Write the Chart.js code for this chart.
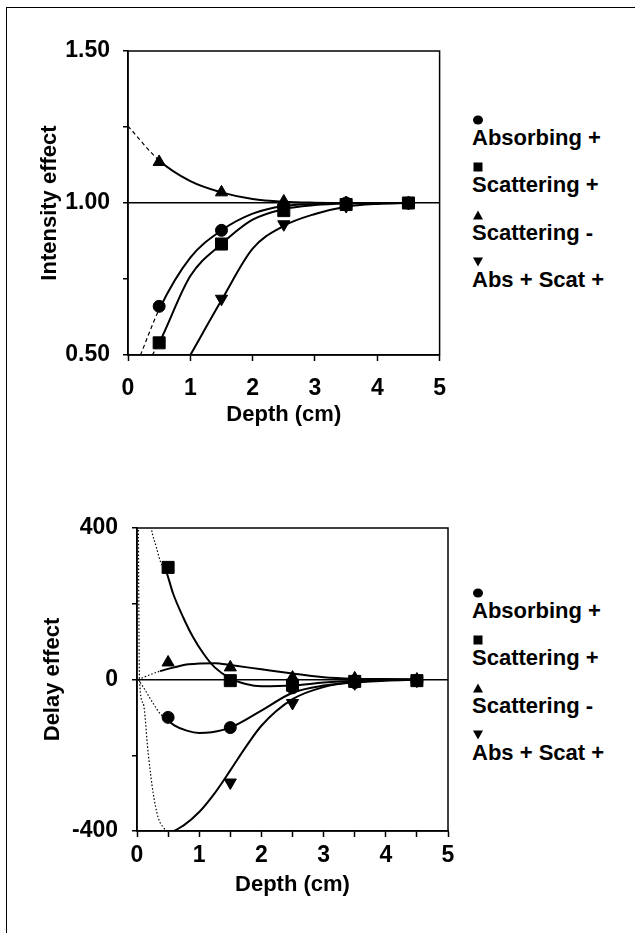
<!DOCTYPE html>
<html>
<head>
<meta charset="utf-8">
<script src="https://cdn.jsdelivr.net/npm/chart.js@4.4.0/dist/chart.umd.min.js"></script>
<style>
    html, body { margin: 0; padding: 0; background: #fff; }
    body { width: 643px; height: 934px; position: relative; overflow: hidden; font-family: 'Liberation Sans', Arial, sans-serif; }
    #frame { position: absolute; left: 6px; top: 7px; width: 628px; height: 925px; border-top: 1.5px solid #000; border-left: 1.5px solid #000; }
    .box { position: absolute; left: 0; }
    #topBox { top: 0; }
    #bottomBox { top: 470px; }
    .legend { position: absolute; left: 472px; font-weight: bold; font-size: 22px; color: #000; }
    .legend .item { height: 47.3px; }
    .legend .mark { height: 10px; position: relative; }
    .legend svg { position: absolute; left: 0; top: 0; }
    .legend .txt { line-height: 26px; white-space: nowrap; }
</style>
</head>
<body>
<div id="frame"></div>
<div class="box" id="topBox"><canvas id="intensityChart" width="460" height="440"></canvas></div>
<div class="legend" id="topLegend" style="top:115px"></div>
<div class="box" id="bottomBox"><canvas id="delayChart" width="460" height="430"></canvas></div>
<div class="legend" id="bottomLegend" style="top:588px"></div>
<script>
    const depth = [0.5, 1.5, 2.5, 3.5, 4.5];
    const seriesNames = ['Absorbing +', 'Scattering +', 'Scattering -', 'Abs + Scat +'];

    // Intensity effect (upper panel)
    const intAbsorbing = [0.66, 0.91, 0.99, 1.0, 1.0];
    const intScatPlus = [0.54, 0.865, 0.975, 0.995, 1.0];
    const intScatMinus = [1.135, 1.035, 1.005, 1.0, 1.0];
    const intAbsScat = [null, 0.685, 0.93, 0.99, 1.0];

    // trend lines: [depth, value]
    const intFitAbsorbing = [[0.2, 0.5], [0.5, 0.65], [1.0, 0.82], [1.5, 0.91], [2.0, 0.965], [2.5, 0.99], [3.0, 0.997], [3.5, 1.0], [4.5, 1.0]];
    const intFitScatPlus = [[0.39, 0.5], [0.5, 0.54], [1.0, 0.76], [1.5, 0.865], [2.0, 0.945], [2.5, 0.98], [3.0, 0.993], [3.5, 0.998], [4.5, 1.0]];
    const intFitScatMinus = [[0, 1.253], [0.5, 1.14], [1.0, 1.072], [1.5, 1.035], [2.0, 1.013], [2.5, 1.004], [3.0, 1.001], [3.5, 1.0], [4.5, 1.0]];
    const intFitAbsScat = [[1.0, 0.5], [1.5, 0.68], [2.0, 0.85], [2.5, 0.925], [3.0, 0.964], [3.5, 0.988], [4.0, 0.997], [4.5, 1.0]];
    const intFitDashTo = [0.5, 0.5, 0.5, 0];

    // Delay effect (lower panel)
    const delAbsorbing = [-100, -127, -22, -8, -3];
    const delScatPlus = [296, -3, -15, -5, -3];
    const delScatMinus = [45, 32, 5, 3, 0];
    const delAbsScat = [null, -272, -62, -10, -3];

    const delFitAbsorbing = [[0.02, 0], [0.1, -20], [0.26, -63], [0.37, -90], [0.47, -103], [0.6, -121], [0.8, -135], [1.0, -141], [1.2, -139], [1.5, -127], [2.0, -82], [2.5, -35], [3.0, -16], [3.5, -8], [4.0, -3], [4.5, -1]];
    const delFitScatPlus = [[0.2, 440], [0.23, 400], [0.31, 350], [0.38, 310], [0.47, 285], [0.58, 227], [0.74, 165], [0.9, 112], [1.07, 68], [1.25, 32], [1.5, 3], [1.75, -12], [2.0, -18], [2.5, -16], [3.0, -8], [3.5, -3], [4.5, 0]];
    const delFitScatMinus = [[0.02, 0], [0.2, 12], [0.37, 22], [0.6, 32], [0.83, 40], [1.26, 43], [1.5, 38], [2.0, 27], [2.5, 16], [3.0, 6], [3.5, 2], [4.0, 1], [4.5, 0]];
    const delFitAbsScat = [[0.02, 450], [0.04, 0], [0.1, -63], [0.18, -195], [0.26, -300], [0.34, -364], [0.42, -390], [0.53, -402], [0.75, -385], [1.0, -350], [1.25, -300], [1.5, -240], [1.75, -178], [2.0, -122], [2.5, -52], [3.0, -20], [3.5, -6], [4.0, -1], [4.5, 0]];
    const delFitDashTo = [0.47, 0.47, 0.37, 0.53];

    // marker look per series
    const markerStyle = ['circle', 'rect', 'triangle', 'triangle'];
    const markerRadius = [6, 8.5, 7, 7];
    const markerRotation = [0, 0, 0, 180];
    const legendShapes = [
        '<ellipse cx="6" cy="5" rx="5" ry="4.5"/>',
        '<rect x="1.5" y="0.5" width="9" height="9"/>',
        '<polygon points="6,0.5 11,9.5 1,9.5"/>',
        '<polygon points="1,0.5 11,0.5 6,9.5"/>'
    ];

    Chart.defaults.font.family = "'Liberation Sans', Arial, sans-serif";
    Chart.defaults.color = '#000';

    const plotFrame = {
        id: 'plotFrame',
        beforeDatasetsDraw(chart) {
            const { ctx, chartArea: a } = chart;
            ctx.save();
            ctx.strokeStyle = '#000';
            ctx.lineWidth = 1.5;
            ctx.strokeRect(a.left, a.top, a.right - a.left, a.bottom - a.top);
            ctx.restore();
        }
    };

    function buildDatasets(values, fits, dashTo, dash) {
        const markers = values.map(function (vals, i) {
            return {
                type: 'scatter',
                label: seriesNames[i],
                data: depth.map((x, j) => ({ x: x, y: vals[j] })).filter(p => p.y !== null),
                pointStyle: markerStyle[i],
                pointRadius: markerRadius[i],
                rotation: markerRotation[i],
                backgroundColor: '#000',
                borderColor: '#000',
                borderWidth: 1
            };
        });
        const curves = fits.map(function (pts, i) {
            const isDash = c => c.p1.parsed.x <= dashTo[i] + 1e-9;
            return {
                type: 'line',
                label: seriesNames[i] + ' fit',
                data: pts.map(p => ({ x: p[0], y: p[1] })),
                borderColor: '#000',
                borderWidth: 2,
                pointRadius: 0,
                fill: false,
                cubicInterpolationMode: 'monotone',
                segment: {
                    borderDash: c => isDash(c) ? dash : undefined,
                    borderWidth: c => isDash(c) ? 1.2 : undefined
                }
            };
        });
        return markers.concat(curves);
    }

    function buildLegend(chart, el) {
        chart.data.datasets.filter(d => d.type === 'scatter').forEach(function (d, i) {
            const item = document.createElement('div');
            item.className = 'item';
            item.innerHTML = '<div class="mark"><svg width="12" height="10" viewBox="0 0 12 10" fill="#000">' +
                legendShapes[i] + '</svg></div><div class="txt"></div>';
            item.querySelector('.txt').textContent = d.label;
            el.appendChild(item);
        });
    }

    function makeChart(canvasId, cfg) {
        return new Chart(document.getElementById(canvasId), {
            data: { datasets: cfg.datasets },
            options: {
                responsive: false,
                animation: false,
                devicePixelRatio: 1,
                layout: { padding: cfg.padding },
                plugins: { legend: { display: false }, tooltip: { enabled: false } },
                scales: {
                    x: {
                        type: 'linear',
                        min: 0,
                        max: 5,
                        afterFit: s => { s.height = cfg.xHeight; },
                        ticks: {
                            stepSize: cfg.xStep,
                            padding: cfg.xTickPad,
                            font: { size: 23, weight: 'bold' },
                            callback: v => Number.isInteger(v) ? String(v) : ''
                        },
                        grid: { drawOnChartArea: false, tickLength: 6, tickColor: '#000', tickWidth: 1.5 },
                        border: { color: '#000', width: 1.5 },
                        title: {
                            display: true,
                            text: 'Depth (cm)',
                            font: { size: 22, weight: 'bold' },
                            padding: { top: 0, bottom: cfg.xTitlePad }
                        }
                    },
                    y: {
                        type: 'linear',
                        min: cfg.yMin,
                        max: cfg.yMax,
                        afterFit: s => { s.width = cfg.yWidth; },
                        ticks: {
                            stepSize: cfg.yStep,
                            padding: cfg.yTickPad,
                            font: { size: 23, weight: 'bold' },
                            callback: cfg.yLabel
                        },
                        grid: {
                            color: c => (c.tick && c.tick.value === cfg.refLine) ? '#000' : 'rgba(0,0,0,0)',
                            lineWidth: 1.5,
                            tickLength: 5,
                            tickColor: '#000',
                            tickWidth: 1.5
                        },
                        border: { color: '#000', width: 1.5 },
                        title: {
                            display: true,
                            text: cfg.yTitle,
                            font: { size: 22, weight: 'bold' },
                            padding: { top: cfg.yTitlePad, bottom: 0 }
                        }
                    }
                }
            },
            plugins: [plotFrame]
        });
    }

    const intensityChart = makeChart('intensityChart', {
        datasets: buildDatasets([intAbsorbing, intScatPlus, intScatMinus, intAbsScat],
            [intFitAbsorbing, intFitScatPlus, intFitScatMinus, intFitAbsScat], intFitDashTo, [4, 3]),
        padding: { top: 51, right: 18, left: 0, bottom: 0 },
        xHeight: 85, xStep: 1, xTickPad: 14, xTitlePad: 12,
        yMin: 0.5, yMax: 1.5, yStep: 0.25, yWidth: 128, yTickPad: 13, yTitlePad: 37,
        yLabel: v => Number.isInteger(v * 2) ? v.toFixed(2) : '',
        yTitle: 'Intensity effect',
        refLine: 1
    });
    buildLegend(intensityChart, document.getElementById('topLegend'));

    const delayChart = makeChart('delayChart', {
        datasets: buildDatasets([delAbsorbing, delScatPlus, delScatMinus, delAbsScat],
            [delFitAbsorbing, delFitScatPlus, delFitScatMinus, delFitAbsScat], delFitDashTo, [1.5, 2]),
        padding: { top: 58, right: 12, left: 0, bottom: 0 },
        xHeight: 69, xStep: 0.5, xTickPad: 5, xTitlePad: 2,
        yMin: -400, yMax: 400, yStep: 200, yWidth: 137, yTickPad: 14, yTitlePad: 40,
        yLabel: v => v % 400 === 0 ? String(v) : '',
        yTitle: 'Delay effect',
        refLine: 0
    });
    buildLegend(delayChart, document.getElementById('bottomLegend'));
</script>
</body>
</html>
